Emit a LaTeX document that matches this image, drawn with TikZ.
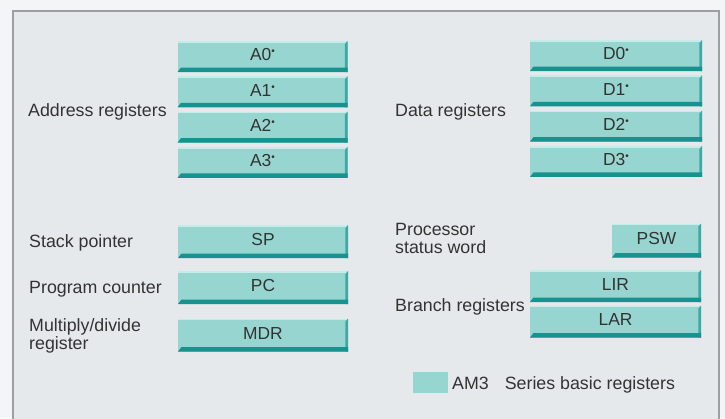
\documentclass[tikz,border=0pt]{standalone}
\usepackage{fontspec}
\setmainfont{Liberation Sans}
\definecolor{outerbg}{HTML}{F4F5F6}
\definecolor{innerbg}{HTML}{E6E9EC}
\definecolor{framec}{HTML}{9C9FA2}
\definecolor{regfill}{HTML}{97D6D0}
\definecolor{regdark}{HTML}{17938F}
\definecolor{regedge}{HTML}{3DA9A4}
\definecolor{reglight}{HTML}{C4ECE8}
\definecolor{txt}{HTML}{333333}
\newcommand{\regmark}{\raisebox{6pt}{\fontsize{10}{10}\selectfont\textbullet}}
\tikzset{
  lbl/.style={inner sep=0pt, anchor=base west, align=left, text=txt,
    font=\fontsize{17.8}{18.5}\selectfont},
  reg/.style={draw=none, fill=regfill, inner sep=0pt, minimum height=31pt,
    text height=12.6pt, text depth=4pt, text=txt,
    font=\fontsize{17.4}{18}\selectfont,
    path picture={
      \coordinate (pSW) at (path picture bounding box.south west);
      \coordinate (pNE) at (path picture bounding box.north east);
      \fill[reglight] (pSW |- pNE) rectangle ([yshift=-1.6pt]pNE);
      \fill[regedge] ([xshift=-2.6pt]pNE |- pSW) -- ([shift={(-2.6pt,-3pt)}]pNE)
        -- (pNE) -- (pNE |- pSW) -- cycle;
      \fill[regdark] (pSW) -- (pSW -| pNE) -- ([yshift=4.5pt]pSW -| pNE)
        -- ([shift={(3.5pt,4.5pt)}]pSW) -- cycle;
    }},
}
\begin{document}
\begin{tikzpicture}[x=1pt,y=-1pt]
  \fill[outerbg] (0,0) rectangle (725,418);
  \useasboundingbox (0,0) rectangle (725,418);
  \filldraw[fill=innerbg, draw=framec, line width=1.6pt]
    (13,430) -- (13,11) -- (719,11) -- (719,430);

  % address registers
  \node[reg, minimum width=170pt] (A0) at (262.5,56.5) {A0\regmark};
  \node[reg, minimum width=170pt] (A1) at (262.5,91.8) {A1\regmark};
  \node[reg, minimum width=170pt] (A2) at (262.5,127.1) {A2\regmark};
  \node[reg, minimum width=170pt] (A3) at (262.5,162.4) {A3\regmark};
  \node[lbl] (la) at (28,116.3) {Address registers};

  % data registers
  \node[reg, minimum width=172pt] (D0) at (616,55.5) {D0\regmark};
  \node[reg, minimum width=172pt] (D1) at (616,90.8) {D1\regmark};
  \node[reg, minimum width=172pt] (D2) at (616,126.1) {D2\regmark};
  \node[reg, minimum width=172pt] (D3) at (616,161.4) {D3\regmark};
  \node[lbl] (ld) at (395,116) {Data registers};

  % left lower
  \node[reg, minimum width=170pt, minimum height=33pt] (SP) at (263,241.5) {SP};
  \node[reg, minimum width=170pt, minimum height=33pt] (PC) at (263,287.5) {PC};
  \node[reg, minimum width=170pt, minimum height=33pt] (MDR) at (263,335) {MDR};
  \node[lbl] (lsp) at (29,247.5) {Stack pointer};
  \node[lbl] (lpc) at (29,293.5) {Program counter};
  \node[lbl, anchor=north west] (lmdr) at (29,318) {Multiply/divide\\register};

  % right lower
  \node[reg, minimum width=89pt, minimum height=34pt] (PSW) at (656.5,240.5) {PSW};
  \node[reg, minimum width=171pt, minimum height=32pt] (LIR) at (615.5,286) {LIR};
  \node[reg, minimum width=171pt, minimum height=32pt] (LAR) at (615.5,321.5) {LAR};
  \node[lbl, anchor=north west] (lpsw) at (395,223) {Processor\\status word};
  \node[lbl] (lbr) at (395,311.3) {Branch registers};

  % legend
  \fill[regfill] (413,372) rectangle (448,393);
  \node[lbl] (leg) at (452,389.3) {AM3\hspace{0.9em}Series basic registers};
\end{tikzpicture}
\end{document}
